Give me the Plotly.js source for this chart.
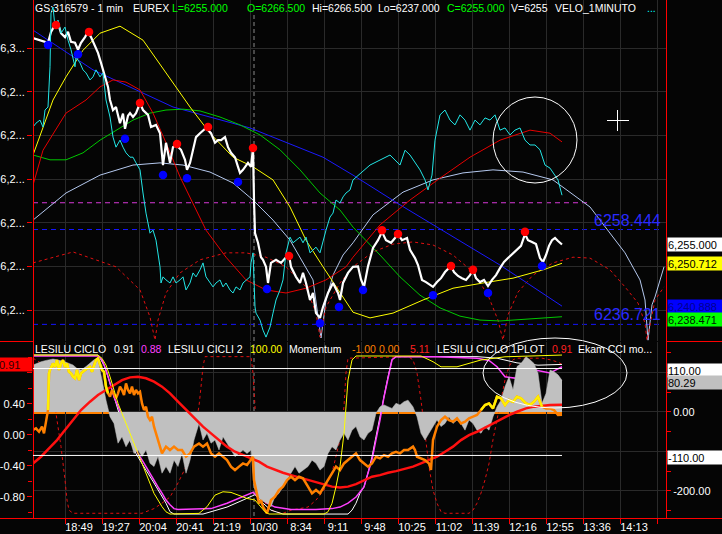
<!DOCTYPE html>
<html>
<head>
<meta charset="utf-8">
<script src="https://cdn.plot.ly/plotly-3.0.1.min.js"></script>
<style>
  html, body { margin: 0; padding: 0; background: #050505; }
  #chart { width: 722px; height: 534px; }
</style>
</head>
<body>
<div id="chart"></div>
<script>
// ---------- data: bar index (1-minute bars) and values ----------
const timeTickIdx = [32, 69, 106, 143, 180, 217, 254, 291, 328, 365, 402, 439, 476, 513, 550, 587, 624];
const timeTickText = ['18:49', '19:27', '20:04', '20:41', '21:19', '10/30', '8:34', '9:11', '9:48', '10:25', '11:02', '11:39', '12:16', '12:55', '13:36', '14:13', ''];
const sessionBreakIdx = 221;

const priceTicks = [6240, 6250, 6260, 6270, 6280, 6290, 6300];
const cycleTicks = [-0.8, -0.4, 0, 0.4, 0.8];
const cycleMinorTicks = [-1.0, -0.6, -0.2, 0.2, 0.6, 1.0];
const cciTicks = [-200, -100, 0, 100];
const cciMinorTicks = [-250, -150, -50, 50, 150];

// close (white)
const closePts = [[0,6302.3],[7,6301.8],[15,6301.2],[18,6303.7],[22,6305.3],[25,6305.7],[28,6303.4],[32,6302.5],[35,6303.7],[38,6301.4],[42,6301.2],[45,6299.6],[48,6301.2],[52,6302.5],[55,6303.7],[58,6302.5],[62,6300.2],[65,6298.9],[68,6296.6],[72,6293.4],[75,6291.1],[77,6288.1],[80,6285.8],[83,6286.5],[87,6282.8],[90,6285.0],[92,6281.5],[95,6284.5],[97,6285.1],[100,6284.2],[103,6285.1],[107,6287.4],[110,6285.8],[115,6284.7],[118,6281.9],[123,6282.4],[127,6280.5],[130,6273.2],[133,6278.3],[137,6273.7],[140,6277.3],[143,6277.8],[148,6276.7],[152,6274.4],[154,6272.1],[157,6273.7],[160,6276.7],[163,6279.6],[167,6280.5],[170,6281.2],[173,6281.7],[178,6280.5],[182,6278.3],[185,6278.9],[188,6278.9],[192,6279.6],[195,6277.3],[198,6276.0],[202,6275.0],[205,6272.8],[207,6271.4],[210,6272.1],[215,6273.7],[218,6272.8],[220,6277.1],[221,6265.2],[222,6257.6],[225,6255.4],[228,6252.1],[230,6251.5],[233,6249.9],[235,6246.2],[238,6250.8],[243,6251.5],[248,6250.8],[253,6252.1],[256,6252.6],[258,6249.9],[263,6247.6],[267,6246.2],[270,6248.5],[273,6246.2],[277,6242.3],[280,6243.9],[283,6239.3],[287,6238.2],[290,6240.7],[295,6243.9],[300,6246.2],[305,6243.9],[307,6242.3],[310,6246.2],[315,6248.5],[320,6249.9],[325,6250.0],[328,6247.0],[331,6245.3],[335,6250.0],[340,6254.2],[345,6256.0],[349,6257.9],[353,6256.0],[358,6255.4],[362,6256.5],[365,6257.4],[369,6256.0],[374,6256.5],[377,6253.8],[382,6251.9],[385,6250.3],[389,6246.9],[393,6246.4],[397,6245.7],[400,6245.3],[404,6246.4],[408,6247.3],[412,6248.7],[416,6249.6],[418,6250.1],[421,6248.7],[425,6247.8],[429,6247.3],[433,6246.9],[437,6248.0],[440,6249.2],[443,6247.3],[447,6246.4],[451,6246.9],[455,6245.5],[459,6246.9],[463,6248.0],[467,6249.6],[471,6251.0],[475,6251.9],[479,6252.8],[484,6253.8],[488,6254.7],[492,6257.4],[495,6256.0],[499,6255.6],[503,6255.1],[507,6251.9],[510,6251.0],[513,6252.6],[516,6254.7],[519,6256.0],[522,6256.5],[525,6255.8],[529,6255.0]];

// second instrument (cyan)
const cyanPts = [[0,6281.9],[3,6282.8],[7,6283.5],[10,6281.9],[12,6285.8],[15,6286.5],[17,6295.7],[18,6308.0],[20,6309.4],[22,6304.8],[25,6306.4],[28,6303.4],[32,6304.8],[35,6301.8],[38,6299.6],[42,6295.7],[43,6297.9],[47,6296.6],[50,6295.0],[53,6294.3],[57,6292.7],[60,6293.4],[63,6295.0],[67,6293.4],[70,6294.3],[73,6288.1],[77,6284.2],[80,6279.6],[83,6277.3],[87,6278.9],[90,6277.3],[93,6276.0],[97,6275.0],[100,6275.0],[103,6273.7],[107,6272.1],[110,6266.8],[113,6262.2],[117,6257.6],[120,6258.3],[123,6256.0],[127,6249.9],[128,6246.2],[130,6247.6],[133,6246.9],[137,6246.2],[140,6247.6],[143,6246.2],[147,6246.9],[150,6247.6],[153,6244.6],[157,6246.2],[160,6248.5],[163,6247.6],[167,6249.2],[170,6250.8],[173,6247.6],[177,6246.2],[180,6245.3],[183,6246.2],[187,6246.9],[190,6245.3],[193,6246.2],[197,6244.6],[200,6243.9],[203,6245.3],[207,6244.6],[210,6246.2],[213,6246.9],[217,6247.6],[218,6250.8],[220,6253.1],[222,6240.7],[223,6239.3],[227,6237.7],[230,6235.4],[233,6233.8],[237,6236.1],[240,6239.3],[243,6242.3],[247,6244.6],[250,6246.9],[253,6253.1],[257,6256.7],[260,6255.4],[263,6256.0],[267,6256.7],[270,6255.4],[273,6256.7],[277,6253.1],[280,6253.8],[283,6254.4],[287,6253.1],[290,6256.0],[293,6258.3],[297,6261.3],[300,6262.2],[303,6265.2],[307,6264.5],[310,6265.9],[313,6266.8],[317,6267.5],[320,6269.8],[337,6273.2],[347,6274.4],[357,6275.5],[367,6273.2],[372,6276.6],[377,6275.5],[387,6272.1],[392,6269.8],[395,6267.5],[399,6270.9],[402,6278.9],[407,6284.7],[412,6285.8],[417,6283.5],[422,6282.4],[427,6284.7],[432,6283.5],[437,6281.2],[442,6283.5],[447,6282.4],[452,6284.0],[457,6283.5],[462,6284.7],[467,6281.2],[472,6281.7],[477,6280.1],[482,6281.2],[487,6281.7],[492,6278.9],[497,6277.8],[502,6277.8],[507,6276.7],[512,6273.2],[517,6272.5],[522,6270.9],[525,6269.8],[529,6266.3]];

// swing highs / lows
const peakPts = [[23,6305.3],[56,6303.7],[107,6287.4],[144,6278.0],[175,6281.9],[220,6277.1],[256,6252.4],[349,6258.3],[365,6257.4],[418,6250.1],[440,6249.2],[492,6257.9]];
const troughPts = [[15,6300.7],[45,6298.6],[92,6279.2],[130,6270.9],[154,6270.2],[205,6269.3],[234,6244.8],[287,6237.0],[306,6240.7],[330,6244.6],[400,6243.4],[455,6243.9],[509,6250.1]];

// smoothed cycles on price
const yellowPts = [[0,6275.5],[10,6281.9],[20,6288.1],[33,6293.4],[50,6299.5],[67,6303.4],[87,6305.0],[110,6301.8],[133,6294.3],[157,6286.5],[177,6280.5],[200,6275.0],[220,6272.8],[240,6269.8],[257,6263.6],[273,6256.0],[290,6249.9],[307,6243.9],[320,6239.5],[337,6238.2],[360,6239.3],[390,6242.3],[420,6245.0],[450,6246.2],[480,6247.3],[510,6249.2],[529,6250.712]];
const redPts = [[0,6268.6],[10,6276.6],[33,6285.1],[53,6288.1],[67,6291.1],[80,6292.7],[93,6292.2],[107,6290.4],[120,6285.1],[133,6278.3],[147,6270.5],[160,6264.5],[173,6258.3],[193,6252.1],[213,6246.9],[233,6244.6],[253,6243.9],[273,6245.0],[293,6246.9],[313,6249.9],[320,6252.1],[347,6259.5],[377,6265.2],[407,6270.2],[437,6275.0],[467,6278.9],[497,6281.2],[517,6280.5],[529,6278.5]];
const greenPts = [[0,6275.5],[17,6274.4],[33,6274.4],[50,6276.0],[67,6278.9],[83,6281.2],[100,6283.5],[117,6285.1],[133,6285.8],[150,6286.0],[167,6285.6],[187,6284.2],[207,6282.4],[227,6280.1],[247,6276.7],[267,6272.1],[287,6266.8],[307,6262.9],[320,6259.0],[347,6252.6],[367,6247.6],[387,6243.4],[407,6240.5],[427,6238.6],[447,6237.7],[467,6237.5],[497,6238.0],[529,6238.471]];
const bluePts = [[0,6304.1],[60,6295.0],[140,6286.5],[217,6281.7],[290,6275.0],[320,6270.9],[367,6264.1],[417,6257.2],[467,6250.3],[529,6240.888]];
const arcPts = [[0,6260.6],[33,6266.8],[67,6270.9],[100,6273.2],[127,6273.7],[150,6273.2],[177,6271.6],[200,6269.1],[220,6265.2],[240,6260.6],[257,6256.0],[273,6249.9],[280,6246.9],[288,6233.6],[293,6242.3],[300,6248.0],[310,6252.6],[320,6255.4],[340,6261.8],[370,6267.0],[400,6269.8],[430,6271.4],[460,6272.1],[490,6271.6],[520,6269.8],[557,6263.6],[577,6257.6],[592,6253.1],[607,6246.9],[612,6242.3],[615,6233.1],[619,6241.2],[622,6243.0],[631,6249.9]];
const cycleArcPts = [[0,6250.8],[40,6253.3],[83,6249.9],[107,6244.6],[117,6238.4],[122,6233.1],[125,6237.7],[133,6243.9],[147,6248.5],[167,6251.5],[193,6253.1],[213,6253.1],[233,6252.1],[253,6249.9],[273,6245.3],[283,6239.3],[287,6233.8],[293,6240.7],[307,6246.2],[320,6249.9],[340,6253.3],[360,6255.1],[380,6255.6],[400,6254.9],[420,6252.6],[440,6248.7],[455,6243.4],[465,6237.7],[470,6233.1],[475,6238.9],[485,6244.1],[500,6248.0],[520,6250.8],[540,6252.1],[557,6251.9],[577,6249.2],[592,6245.3],[605,6241.6],[612,6237.0],[614,6233.1],[622,6242.3],[631,6245.3]];

const projLevels = [6258.444, 6236.721];
const midLevel = 6264.57;

// lower panel
const cciPts = [[0,119],[4,124],[8,127],[12,130],[16,132],[20,134],[24,132],[28,130],[32,127],[36,123],[40,119],[44,110],[48,106],[53,115],[57,123],[61,132],[65,136],[67,106],[73,30],[77,-12],[81,-29],[85,-79],[89,-63],[93,-88],[97,-71],[101,-105],[105,-96],[109,-113],[113,-96],[117,-130],[121,-138],[125,-113],[129,-155],[133,-138],[137,-155],[141,-122],[145,-138],[149,-105],[153,-155],[157,-122],[161,-71],[166,-29],[170,-71],[174,-54],[178,-79],[182,-71],[186,-96],[190,-63],[194,-79],[198,-96],[202,-113],[206,-105],[210,-96],[214,-105],[218,-96],[221,-189],[224,-214],[228,-223],[234,-231],[238,-240],[242,-214],[246,-206],[250,-189],[254,-172],[258,-155],[262,-138],[266,-155],[270,-147],[275,-138],[279,-122],[283,-130],[287,-147],[291,-138],[295,-105],[299,-88],[303,-96],[307,-71],[311,-54],[315,-71],[319,-46],[323,-37],[327,-63],[331,-71],[335,-54],[339,-46],[343,-3],[347,13],[351,18],[355,13],[359,9],[363,22],[367,18],[371,26],[375,30],[380,13],[384,-12],[388,-54],[392,-71],[396,-54],[400,-37],[404,-20],[408,-37],[412,-29],[416,-12],[420,-29],[424,-20],[428,-29],[432,-46],[436,-20],[440,-29],[444,-46],[448,-54],[452,-37],[456,-46],[460,-12],[464,13],[468,30],[472,64],[476,89],[480,56],[484,115],[488,123],[493,140],[497,132],[501,123],[505,98],[509,22],[513,47],[517,106],[521,102],[525,94],[529,80.29]];
const cciLevels = [110, -110];

const momPts = [[0,-10.6],[3,-9.6],[6,-11.7],[9,-8.5],[11,-12.7],[13,-4.4],[15,1.9],[16,24.8],[17,26.9],[20,31.0],[22,28.9],[24,33.1],[26,26.9],[28,31.0],[30,33.1],[32,28.9],[34,31.0],[36,25.8],[38,24.8],[40,22.7],[42,21.7],[44,26.9],[46,20.6],[48,24.8],[52,26.9],[57,28.9],[59,25.8],[61,30.0],[63,33.1],[65,34.2],[67,30.0],[69,26.9],[71,25.8],[73,16.5],[75,12.3],[77,10.2],[79,14.4],[81,11.3],[83,9.2],[85,12.3],[87,16.5],[89,14.4],[91,11.3],[93,18.5],[95,14.4],[97,12.3],[99,16.5],[101,11.3],[103,14.4],[105,12.3],[107,13.3],[109,6.0],[111,1.9],[113,4.0],[115,-2.3],[117,-4.4],[119,-2.3],[121,-8.5],[123,-12.7],[125,-16.9],[127,-21.0],[129,-25.2],[131,-23.1],[133,-21.0],[137,-23.1],[141,-21.0],[145,-23.1],[149,-23.1],[153,-27.3],[157,-25.2],[161,-21.0],[166,-19.0],[170,-21.0],[174,-19.0],[178,-25.2],[182,-27.3],[186,-25.2],[190,-27.3],[194,-29.4],[198,-33.5],[202,-35.6],[206,-33.5],[210,-31.5],[214,-32.5],[218,-29.4],[220,-27.3],[221,-41.9],[223,-48.1],[224,-52.3],[226,-56.5],[228,-54.4],[230,-58.5],[232,-60.6],[234,-62.7],[236,-58.5],[238,-54.4],[242,-52.3],[246,-48.1],[250,-46.0],[254,-41.9],[258,-39.8],[262,-41.9],[266,-39.8],[270,-40.8],[275,-46.0],[279,-50.2],[283,-48.1],[287,-50.2],[291,-46.0],[295,-41.9],[299,-37.7],[301,-35.6],[303,-33.5],[307,-35.6],[311,-31.5],[315,-29.4],[319,-27.3],[323,-25.2],[327,-29.4],[331,-31.5],[335,-33.5],[339,-31.5],[343,-27.3],[347,-28.3],[351,-26.3],[355,-27.3],[359,-25.2],[363,-24.2],[367,-25.2],[371,-23.1],[375,-23.1],[380,-21.0],[382,-23.1],[384,-27.3],[388,-28.3],[392,-29.4],[396,-31.5],[398,-35.6],[400,-16.9],[402,-12.7],[404,-8.5],[408,-4.4],[412,-2.3],[416,-4.4],[420,-5.4],[424,-3.3],[428,-6.5],[432,-5.4],[436,-3.3],[440,-2.3],[444,-1.2],[448,1.9],[452,5.0],[456,6.0],[460,2.9],[464,10.2],[468,9.2],[472,5.0],[476,8.1],[480,7.1],[484,10.2],[488,9.2],[493,6.0],[497,5.0],[501,7.1],[505,10.2],[509,4.0],[513,2.9],[517,2.9],[521,1.9],[525,-1.2],[529,-1.0]];
const momZero = 0;
const sigPts = [[0,-31.5],[8,-27.3],[16,-22.1],[24,-16.9],[32,-10.6],[40,-4.4],[48,1.9],[57,7.1],[65,11.3],[73,14.4],[81,17.5],[89,20.6],[97,22.3],[105,22.7],[113,21.7],[121,19.6],[129,16.5],[137,12.3],[145,7.1],[153,1.9],[161,-3.3],[170,-8.5],[178,-12.7],[186,-16.9],[194,-21.0],[202,-24.2],[210,-26.3],[218,-28.3],[226,-30.4],[234,-33.5],[242,-35.6],[250,-37.3],[258,-38.8],[266,-40.2],[275,-41.9],[283,-43.5],[291,-45.0],[299,-46.0],[307,-46.5],[315,-46.0],[323,-44.4],[331,-41.9],[339,-39.8],[347,-38.8],[355,-37.3],[363,-36.3],[371,-35.2],[380,-33.5],[388,-31.5],[396,-29.4],[404,-27.3],[412,-24.2],[420,-21.0],[428,-16.9],[436,-13.8],[444,-11.7],[452,-9.0],[460,-6.5],[468,-4.0],[476,-1.3],[484,0.8],[493,2.9],[501,4.0],[509,4.4],[517,5.0],[529,5.11]];

const cicli2Pts = [[0,100],[65,100],[69,97.9],[73,93.7],[77,86.4],[81,78.0],[85,69.6],[89,63.3],[93,57.0],[97,50.8],[101,44.5],[105,38.2],[109,31.9],[113,25.6],[117,19.3],[121,13.0],[125,8.8],[129,4.6],[133,1.4],[137,0],[166,0.4],[174,4.6],[182,11.9],[190,14.0],[198,13.6],[206,11.9],[214,9.8],[222,8.8],[226,5.7],[232,1.4],[236,0],[291,0],[295,1.4],[299,6.7],[303,17.2],[307,29.8],[311,50.8],[313,67.5],[315,84.3],[319,96.9],[323,99.4],[388,99.4],[400,95.8],[408,92.6],[424,92.6],[448,96.9],[460,97.9],[472,98.9],[529,100]];
const cicloMagPts = [[0,1.02],[65,1.02],[69,0.97],[73,0.84],[77,0.67],[81,0.49],[85,0.37],[89,0.24],[93,0.11],[97,-0.02],[101,-0.11],[105,-0.24],[109,-0.32],[113,-0.41],[117,-0.49],[121,-0.58],[125,-0.67],[129,-0.75],[133,-0.84],[137,-0.90],[141,-0.95],[145,-0.96],[178,-0.95],[194,-0.88],[210,-0.80],[220,-0.74],[226,-0.80],[234,-0.88],[242,-0.93],[258,-0.96],[283,-0.96],[299,-0.95],[307,-0.93],[315,-0.88],[323,-0.80],[331,-0.67],[335,-0.49],[339,-0.32],[343,-0.06],[347,0.19],[351,0.49],[355,0.75],[359,0.97],[363,1.01],[404,1.01],[444,0.99],[456,0.96],[464,0.88],[472,0.75],[484,0.73],[493,0.78],[501,0.84],[509,0.82],[517,0.80],[523,0.84],[529,0.88]];
const cicloWhitePts = [[0,1.03],[65,1.03],[67,0.99],[71,0.90],[75,0.75],[79,0.58],[83,0.41],[87,0.24],[91,0.11],[97,-0.06],[103,-0.24],[109,-0.37],[115,-0.49],[121,-0.62],[127,-0.75],[133,-0.88],[137,-0.99],[141,-1.02],[170,-1.02],[178,-0.99],[194,-0.93],[210,-0.84],[222,-0.77],[230,-0.88],[238,-0.97],[250,-1.02],[315,-1.02],[319,-0.97],[323,-0.88],[327,-0.75],[331,-0.67],[335,-0.49],[339,-0.28],[343,-0.02],[347,0.24],[351,0.49],[355,0.75],[359,0.97],[363,1.01],[444,1.01],[464,0.99],[484,0.93],[505,0.90],[529,0.91]];
const cicloPlotPts = [[0,0.99],[14,0.88],[18,0.58],[22,0.37],[24,0.19],[28,-0.15],[32,-0.58],[34,-0.84],[36,-0.97],[40,-1.01],[109,-1.01],[113,-0.99],[121,-0.95],[129,-0.88],[137,-0.80],[145,-0.62],[153,-0.41],[157,-0.24],[161,0.02],[166,0.37],[168,0.62],[170,0.88],[172,1.01],[218,1.01],[220,0.80],[222,0.37],[224,-0.06],[226,-0.49],[230,-0.80],[234,-0.93],[242,-0.99],[250,-1.01],[258,-0.97],[275,-0.93],[283,-0.84],[291,-0.71],[299,-0.49],[303,-0.28],[307,-0.06],[311,0.37],[313,0.80],[315,0.99],[375,1.01],[380,0.97],[384,0.80],[388,0.45],[392,0.02],[396,-0.41],[400,-0.71],[404,-0.88],[408,-0.99],[412,-1.01],[436,-1.01],[440,-0.97],[444,-0.88],[448,-0.75],[452,-0.58],[456,-0.37],[460,-0.06],[464,0.19],[468,0.45],[472,0.71],[476,0.88],[480,0.97],[484,0.99],[509,0.99],[517,0.97],[525,0.94],[529,0.91]];

// ---------- helpers ----------
const W = 722, H = 534;
const FONT = '"Liberation Sans", Arial, sans-serif';
const BG = '#050505', RED = '#ff0000', GRID = '#2a2a2a';
const HEAD_SIZE = 10.5;
const px = v => v / W;
const py = v => 1 - v / H;
const xs = pts => pts.map(p => p[0]);
const ys = pts => pts.map(p => p[1]);
const last = pts => pts[pts.length - 1][1];
const lastIdx = pts => pts[pts.length - 1][0];

function fmt3(v) {
  const [a, b] = v.toFixed(3).split('.');
  return a.replace(/\B(?=(\d{3})+(?!\d))/g, ',') + '.' + b;
}
function interp(pts, x) {
  for (let k = 1; k < pts.length; k++) {
    if (x <= pts[k][0]) {
      const [x0, y0] = pts[k - 1], [x1, y1] = pts[k];
      return y0 + (y1 - y0) * (x - x0) / (x1 - x0);
    }
  }
  return last(pts);
}
function line(pts, yaxis, color, width, dash) {
  return { type: 'scatter', mode: 'lines', x: xs(pts), y: ys(pts), xaxis: 'x', yaxis: yaxis,
           line: { color: color, width: width, dash: dash || 'solid' }, hoverinfo: 'skip' };
}
function dots(pts, color) {
  return { type: 'scatter', mode: 'markers', x: xs(pts), y: ys(pts), xaxis: 'x', yaxis: 'y',
           marker: { color: color, size: 8.5, line: { width: 0 } }, hoverinfo: 'skip' };
}
// an axis label is left blank when a value box sits on top of it
function labelsUnder(ticks, fmt, boxed, gap) {
  return ticks.map(v => boxed.some(b => Math.abs(b - v) < gap) ? '' : fmt(v));
}

// momentum drawn yellow where it is positive and above its signal line
const hot = momPts.map(([i, m]) => m > 0 && m > interp(sigPts, i));
const momHotY = momPts.map(([i, m], k) => (hot[k] || (k > 0 && hot[k - 1])) ? m : null);

// ---------- traces ----------
const traces = [
  // main panel
  line(arcPts, 'y', '#b4c8ee', 1),
  line(cycleArcPts, 'y', '#e01010', 1, '3px,3px'),
  line(bluePts, 'y', '#1a1aff', 1),
  line(greenPts, 'y', '#00c800', 1),
  line(redPts, 'y', '#e80000', 1),
  line(yellowPts, 'y', '#ffff00', 1),
  line(closePts, 'y', '#ffffff', 2.2),
  line(cyanPts, 'y', '#22e6e6', 1),
  dots(peakPts, '#ff0000'),
  dots(troughPts, '#0000ff'),
  // lower panel
  { type: 'scatter', mode: 'lines', x: xs(cciPts), y: ys(cciPts), xaxis: 'x', yaxis: 'y4',
    fill: 'tozeroy', fillcolor: '#c0c0c0', line: { color: '#c0c0c0', width: 0.5 }, hoverinfo: 'skip' },
  line(cicloPlotPts, 'y3', '#e01010', 1, '3px,3px'),
  line(cicli2Pts, 'y6', '#ffff00', 1),
  line(cicloWhitePts, 'y3', '#ffffff', 1),
  line(cicloMagPts, 'y3', '#ff40ff', 1.5),
  line(sigPts, 'y5', '#ff1010', 2.5),
  line(momPts, 'y5', '#ff8000', 2.5),
  { type: 'scatter', mode: 'lines', x: xs(momPts), y: momHotY, xaxis: 'x', yaxis: 'y5',
    line: { color: '#ffee00', width: 2.5 }, connectgaps: false, hoverinfo: 'skip' }
];

// ---------- shapes ----------
const frame = { color: RED, width: 1 };
const shapes = [
  { type: 'line', xref: 'paper', yref: 'paper', x0: px(33.5), x1: px(33.5), y0: py(518), y1: 1, line: frame },
  { type: 'line', xref: 'paper', yref: 'paper', x0: px(666.5), x1: px(666.5), y0: py(518), y1: 1, line: frame },
  { type: 'line', xref: 'paper', yref: 'paper', x0: 0, x1: 1, y0: py(518.5), y1: py(518.5), line: frame },
  { type: 'line', xref: 'paper', yref: 'paper', x0: 0, x1: px(33), y0: py(341.5), y1: py(341.5), line: frame },
  { type: 'line', xref: 'paper', yref: 'paper', x0: px(666), x1: 1, y0: py(341.5), y1: py(341.5), line: frame },
  // session break
  { type: 'line', xref: 'x', yref: 'paper', x0: sessionBreakIdx, x1: sessionBreakIdx, y0: py(516), y1: py(12),
    line: { color: '#8a8a8a', width: 1, dash: '4px,3px' }, layer: 'below' },
  // projection levels
  ...projLevels.map(v => ({ type: 'line', xref: 'x', yref: 'y', x0: 0, x1: 629, y0: v, y1: v,
    line: { color: '#1414ff', width: 1, dash: '5px,4px' }, layer: 'below' })),
  { type: 'line', xref: 'x', yref: 'y', x0: 0, x1: 555, y0: midLevel, y1: midLevel,
    line: { color: '#d838d8', width: 1, dash: '5px,4px' }, layer: 'below' },
  // CCI levels and momentum zero
  ...cciLevels.map(v => ({ type: 'line', xref: 'x', yref: 'y4', x0: 0, x1: lastIdx(cciPts), y0: v, y1: v,
    line: { color: '#ffffff', width: 1 } })),
  { type: 'line', xref: 'x', yref: 'y5', x0: 0, x1: lastIdx(momPts), y0: momZero, y1: momZero,
    line: { color: '#ff8000', width: 2 }, layer: 'below' },
  // drawing tools
  { type: 'circle', xref: 'paper', yref: 'paper', x0: px(493), x1: px(577), y0: py(183), y1: py(97),
    line: { color: '#ffffff', width: 1 } },
  { type: 'circle', xref: 'paper', yref: 'paper', x0: px(483), x1: px(627), y0: py(408), y1: py(338),
    line: { color: '#ffffff', width: 1 } },
  { type: 'line', xref: 'paper', yref: 'paper', x0: px(607), x1: px(629), y0: py(120.5), y1: py(120.5),
    line: { color: '#ffffff', width: 1 } },
  { type: 'line', xref: 'paper', yref: 'paper', x0: px(617.5), x1: px(617.5), y0: py(110), y1: py(131),
    line: { color: '#ffffff', width: 1 } }
];

// ---------- annotations ----------
const annotations = [];
function txt(text, x, y, color, size) {
  annotations.push({ text: text, xref: 'paper', yref: 'paper', x: px(x), y: py(y), xanchor: 'left', yanchor: 'middle',
    showarrow: false, font: { family: FONT, size: size || HEAD_SIZE, color: color }, borderpad: 0 });
}
const mainHeader = [
  ['GS:316579 - 1 min', 34, '#ffffff'], ['EUREX', 132, '#ffffff'], ['L=' + last(closePts).toFixed(3), 171, '#00ff00'],
  ['O=6266.500', 246, '#00ff00'], ['Hi=6266.500', 311, '#ffffff'], ['Lo=6237.000', 377, '#ffffff'],
  ['C=' + last(closePts).toFixed(3), 446, '#00ff00'], ['V=6255', 510, '#ffffff'], ['VELO_1MINUTO', 554, '#ffffff'],
  ['...', 646, '#00ffff']
];
mainHeader.forEach(([t, x, c]) => txt(t, x, 8, c));
const lowerHeader = [
  ['LESILU CICLO', 34, '#ffffff'], [last(cicloWhitePts).toFixed(2), 113, '#ffffff'], [last(cicloMagPts).toFixed(2), 140, '#ff40ff'],
  ['LESILU CICLI 2', 167, '#ffffff'], [last(cicli2Pts).toFixed(2), 249, '#ffff00'], ['Momentum', 288, '#ffffff'],
  [last(momPts).toFixed(2), 351, '#ff8000'], [momZero.toFixed(2), 378, '#ff8000'], [last(sigPts).toFixed(2), 409, '#ff2020'],
  ['LESILU CICLO 1PLOT', 436, '#ffffff'], [last(cicloPlotPts).toFixed(2), 551, '#ff2020'], ['Ekam CCI mo...', 577, '#ffffff']
];
lowerHeader.forEach(([t, x, c]) => txt(t, x, 348.5, c));

// projection level captions
projLevels.forEach(v => annotations.push({ text: v.toFixed(3), xref: 'x', yref: 'y', x: 629, y: v,
  xanchor: 'right', yanchor: 'bottom', showarrow: false, borderpad: 0, yshift: 0,
  font: { family: FONT, size: 16, color: '#2a2aff' } }));

// value boxes on the axes
function box(text, yref, y, bg, fg, side, yshift) {
  annotations.push({ text: text, xref: 'paper', yref: yref, x: side === 'left' ? px(33) : px(667), y: y,
    xanchor: side === 'left' ? 'right' : 'left', yanchor: 'middle', showarrow: false,
    bgcolor: bg, borderpad: 0, width: side === 'left' ? 33 : 55, height: 13, align: 'left',
    yshift: yshift || 0, font: { family: FONT, size: 11, color: fg } });
}
box(fmt3(last(closePts)), 'y', last(closePts), '#ffffff', '#000000', 'right');
box(fmt3(last(yellowPts)), 'y', last(yellowPts), '#ffff00', '#000000', 'right');
box(fmt3(last(bluePts)), 'y', last(bluePts), '#0000ff', '#000090', 'right');
box(fmt3(last(greenPts)), 'y', last(greenPts), '#00ff00', '#002000', 'right', -3);
box(cciLevels[0].toFixed(2), 'y4', cciLevels[0], '#ffffff', '#000000', 'right', -2);
box(last(cciPts).toFixed(2), 'y4', last(cciPts), '#c0c0c0', '#000000', 'right', -2);
box(cciLevels[1].toFixed(2), 'y4', cciLevels[1], '#ffffff', '#000000', 'right', -2);
box(last(cicloPlotPts).toFixed(2), 'y3', last(cicloPlotPts), '#ff0000', '#300000', 'left');

// ---------- axes ----------
const tickFont = { family: FONT, size: 11, color: '#ffffff' };
const layout = {
  width: W, height: H,
  margin: { l: 0, r: 0, t: 0, b: 0, pad: 0 },
  paper_bgcolor: BG, plot_bgcolor: BG,
  showlegend: false,
  font: { family: FONT, size: 11, color: '#ffffff' },
  xaxis: {
    domain: [px(33), px(666)], range: [0, 633], anchor: 'y3',
    tickmode: 'array', tickvals: timeTickIdx, ticktext: timeTickText,
    ticks: 'outside', ticklen: 5, tickcolor: RED, tickwidth: 1, ticklabelshift: 14, ticklabelstandoff: -6,
    showgrid: true, gridcolor: GRID, gridwidth: 1, zeroline: false, showline: false, tickfont: tickFont
  },
  yaxis: {
    domain: [py(341), 1], range: [6232.91, 6311.0], anchor: 'x', side: 'left',
    tickmode: 'array', tickvals: priceTicks, ticktext: priceTicks.map(v => fmt3(v).slice(0, 3) + '...'),
    ticks: 'outside', ticklen: 5, tickcolor: RED, showgrid: true, gridcolor: GRID, zeroline: false, showline: false,
    tickfont: tickFont
  },
  yaxis2: {
    overlaying: 'y', anchor: 'x', side: 'right', range: [6232.91, 6311.0],
    tickmode: 'array', tickvals: priceTicks, ticktext: priceTicks.map(fmt3),
    ticks: 'outside', ticklen: 4, tickcolor: RED, showgrid: false, zeroline: false, showline: false, tickfont: tickFont
  },
  yaxis3: {
    domain: [py(518), py(342)], range: [-1.071, 1.199], anchor: 'x', side: 'left',
    tickmode: 'array', tickvals: cycleTicks,
    ticktext: labelsUnder(cycleTicks, v => v.toFixed(2), [last(cicloPlotPts)], 0.15),
    minor: { tickmode: 'array', tickvals: cycleMinorTicks, ticks: 'outside', ticklen: 4, tickcolor: RED, showgrid: false },
    ticks: 'outside', ticklen: 5, tickcolor: RED, showgrid: false, zeroline: false, showline: false, tickfont: tickFont
  },
  yaxis4: {
    overlaying: 'y3', anchor: 'x', side: 'right', range: [-268.4, 177.2],
    tickmode: 'array', tickvals: cciTicks,
    ticktext: labelsUnder(cciTicks, v => v.toFixed(2), cciLevels, 25),
    minor: { tickmode: 'array', tickvals: cciMinorTicks, ticks: 'outside', ticklen: 4, tickcolor: RED, showgrid: false },
    ticks: 'outside', ticklen: 4, tickcolor: RED, showgrid: true, gridcolor: GRID, zeroline: false, showline: false,
    tickfont: tickFont
  },
  yaxis5: { overlaying: 'y3', anchor: 'x', range: [-65.6, 44.4], visible: false },
  yaxis6: { overlaying: 'y3', anchor: 'x', range: [-2.5, 108.2], visible: false },
  shapes: shapes,
  annotations: annotations
};

Plotly.newPlot('chart', traces, layout, { staticPlot: true, displayModeBar: false });
</script>
</body>
</html>
